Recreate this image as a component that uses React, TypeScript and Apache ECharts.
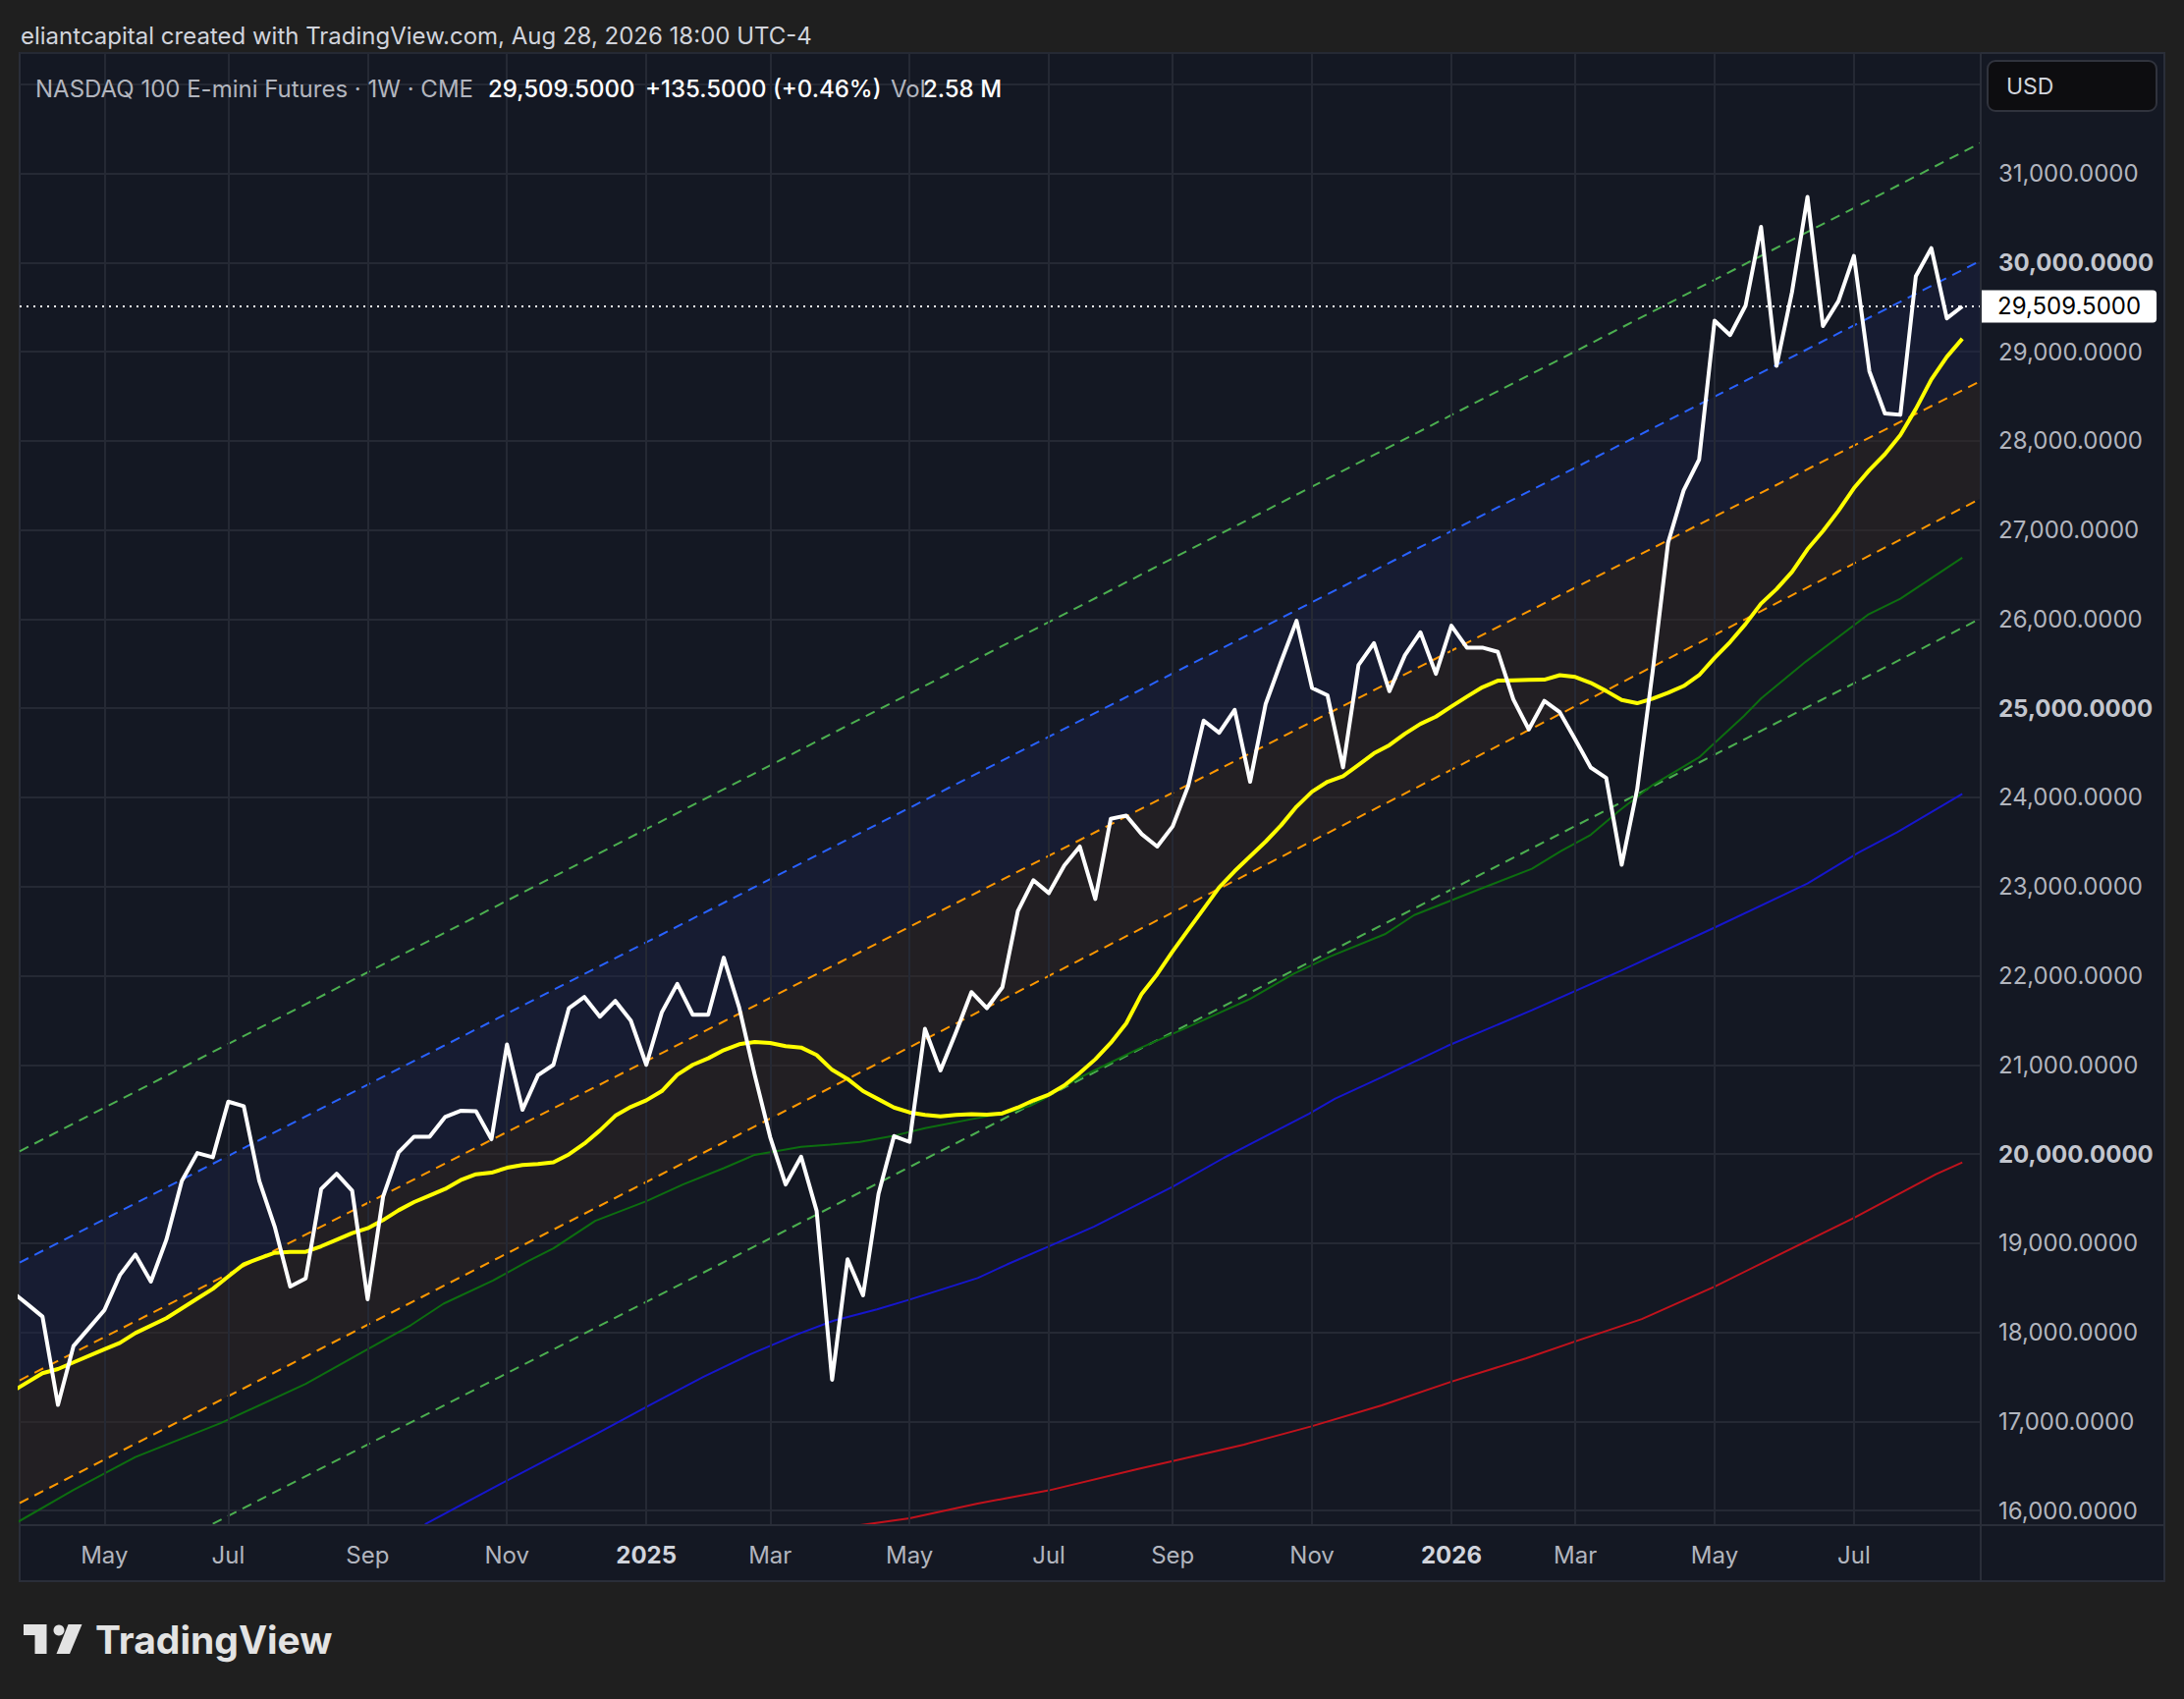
import React, { useEffect, useRef } from 'react';
import * as echarts from 'echarts';

const W = 2224;
const H = 1730;
const FONT = 'Inter, "Noto Sans", "DejaVu Sans", sans-serif';

// week index 0 = week of 2024-03-25, last = week of 2026-08-24
const close = [
  18457, 18318, 18175, 17184, 17844, 18046, 18248, 18641, 18872, 18568,
  19037, 19698, 20010, 19963, 20587, 20535, 19698, 19184, 18512, 18604,
  19607, 19779, 19588, 18369, 19522, 20018, 20194, 20194, 20414, 20484,
  20480, 20165, 21229, 20495, 20882, 21000, 21636, 21761, 21540, 21717,
  21496, 21000, 21588, 21908, 21562, 21562, 22202, 21643, 20889, 20190,
  19657, 19969, 19362, 17467, 18818, 18413, 19553, 20201, 20135, 21404,
  20937, 21364, 21816, 21636, 21871, 22725, 23071, 22927, 23236, 23449,
  22861, 23761, 23797, 23588, 23449, 23676, 24128, 24862, 24726, 24983,
  24176, 25046, 25523, 25982, 25229, 25145, 24337, 25486, 25732, 25192,
  25596, 25853, 25387, 25927, 25681, 25681, 25633, 25101, 24763, 25083,
  24956, 24651, 24336, 24219, 23244, 24092, 25413, 26861, 27445, 27790,
  29350, 29187, 29517, 30401, 28842, 29670, 30737, 29289, 29568, 30076,
  28781, 28308, 28293, 29848, 30163, 29375, 29509.5,
];

const yellowMA: [number, number][] = [
  [0, 17330], [2, 17540], [3, 17587], [4, 17661], [6, 17808], [7, 17881], [8, 17991],
  [10, 18157], [12, 18377], [13, 18487], [14, 18626], [15, 18762], [16, 18828], [17, 18891],
  [18, 18902], [19, 18902], [20, 18964], [21, 19037], [22, 19111], [23, 19166], [24, 19258],
  [25, 19368], [26, 19460], [27, 19533], [28, 19607], [29, 19706], [30, 19772], [31, 19790],
  [32, 19845], [33, 19876], [34, 19888], [35, 19907], [36, 19995], [37, 20116], [38, 20263],
  [39, 20429], [40, 20528], [41, 20602], [42, 20705], [43, 20889], [44, 21000], [45, 21073],
  [46, 21165], [47, 21231], [48, 21257], [49, 21246], [50, 21209], [51, 21194], [52, 21110],
  [53, 20944], [54, 20841], [55, 20705], [56, 20613], [57, 20521], [58, 20466], [59, 20437],
  [60, 20422], [61, 20437], [62, 20447], [63, 20440], [64, 20455], [65, 20521], [66, 20600],
  [67, 20666], [68, 20769], [69, 20908], [70, 21062], [71, 21246], [72, 21466], [73, 21797],
  [74, 22017], [75, 22274], [76, 22513], [77, 22751], [78, 22990], [79, 23173], [80, 23339],
  [81, 23504], [82, 23687], [83, 23897], [84, 24065], [85, 24176], [86, 24238], [87, 24366],
  [88, 24495], [89, 24587], [90, 24715], [91, 24825], [92, 24906], [93, 25020], [94, 25130],
  [95, 25236], [96, 25310], [97, 25314], [98, 25318], [99, 25321], [100, 25372], [101, 25352],
  [102, 25286], [103, 25194], [104, 25093], [105, 25057], [106, 25108], [107, 25174], [108, 25250],
  [109, 25372], [110, 25565], [111, 25743], [112, 25946], [113, 26175], [114, 26337], [115, 26530],
  [116, 26784], [117, 26988], [118, 27216], [119, 27470], [120, 27673], [121, 27851], [122, 28065],
  [123, 28359], [124, 28689], [125, 28943], [126, 29147],
];

const greenMA: [number, number][] = [
  [0, 15830], [4, 16230], [8, 16600], [13.5, 16980], [19, 17420], [22.4, 17750], [25.8, 18080],
  [27.9, 18320], [31.1, 18580], [33.4, 18800], [35, 18940], [37.7, 19250], [41, 19470],
  [43.4, 19660], [46, 19840], [48, 19990], [51, 20080], [52.9, 20105], [54.8, 20135],
  [56.9, 20200], [59, 20290], [62, 20390], [64.5, 20470], [65.8, 20540], [66.7, 20620],
  [68.8, 20840], [72.8, 21180], [75.8, 21410], [80, 21740], [82.8, 22020], [85.1, 22210],
  [88.7, 22465], [90.6, 22680], [94.8, 22970], [98.2, 23200], [100.1, 23400], [102, 23580],
  [103.9, 23860], [106, 24140], [109, 24450], [111.9, 24915], [113, 25110], [115.9, 25525],
  [119.9, 26050], [122, 26230], [126, 26690],
];

const blueMA: [number, number][] = [
  [26.7, 15844], [31.6, 16300], [37.8, 16860], [41.3, 17190], [44.7, 17500], [47.7, 17750],
  [50.8, 17980], [53.1, 18130], [55.9, 18257], [58, 18365], [62.4, 18608], [64.3, 18760],
  [67, 18963], [69.9, 19184], [75, 19632], [78.3, 19956], [83.8, 20450], [85.5, 20622],
  [88.5, 20861], [92.7, 21209], [98.2, 21613], [104, 22060], [110, 22540], [116, 23035],
  [119.3, 23381], [121.8, 23610], [126, 24041],
];

const redMA: [number, number][] = [
  [54.7, 15831], [58, 15912], [62.4, 16078], [67, 16225], [72.7, 16464], [75, 16555],
  [79.6, 16739], [83.9, 16941], [88.5, 17180], [93, 17445], [97.8, 17706], [101, 17897],
  [105.3, 18147], [110, 18511], [113.2, 18787], [119, 19283], [124.3, 19772], [126, 19906],
];

// regression channel lines: value at left edge and at right edge of the plot
const channelColors = ['#4caf50', '#2962ff', '#ff9800', '#ff9800', '#4caf50'];
const channelStart = [20030, 18782, 17460, 16083, 14739];
const channelEnd = [31344, 30023, 28673, 27353, 26009];

const tickIdx = [6, 14, 23, 32, 41, 49, 58, 67, 75, 84, 93, 101, 110, 119];
const tickLabels = ['May', 'Jul', 'Sep', 'Nov', '2025', 'Mar', 'May', 'Jul', 'Sep', 'Nov', '2026', 'Mar', 'May', 'Jul'];

const lastPrice = 29509.5;

const X_MIN = 0.524;
const X_MAX = 127.19;
const Y_MIN = 15835;
const Y_MAX = 32352;

const GRID = '#252934';
const BORDER = '#2a2e39';

const fmt = (v: number) =>
  v.toLocaleString('en-US', { minimumFractionDigits: 4, maximumFractionDigits: 4 });

function buildOption() {
  const closeData = close.map((v, i) => [i, v]);
  const series: any[] = [];

  series.push({
    type: 'line',
    name: 'vgrid',
    data: [],
    z: 1,
    clip: false,
    silent: true,
    markLine: {
      silent: true,
      symbol: ['none', 'none'],
      animation: false,
      lineStyle: { color: GRID, width: 2, type: 'solid' },
      emphasis: { disabled: true },
      label: {
        show: true,
        position: 'start',
        distance: 18,
        color: '#b2b5be',
        fontSize: 24,
        fontFamily: FONT,
        formatter: (p: any) => p.name,
      },
      data: tickIdx.map((x, k) => {
        const isYear = /^\d{4}$/.test(tickLabels[k]);
        const item: any = { name: tickLabels[k], xAxis: x };
        if (isYear) item.label = { fontWeight: 'bold', color: '#d1d4dc' };
        return item;
      }),
    },
  });

  // channel fills
  series.push({
    type: 'custom',
    silent: true,
    z: 2,
    data: [[X_MIN, channelStart[3]]],
    renderItem: (_params: any, api: any) => {
      const poly = (lo: number, hi: number, fill: string) => ({
        type: 'polygon',
        shape: {
          points: [
            api.coord([X_MIN, channelStart[lo]]),
            api.coord([X_MAX, channelEnd[lo]]),
            api.coord([X_MAX, channelEnd[hi]]),
            api.coord([X_MIN, channelStart[hi]]),
          ],
        },
        style: { fill },
      });
      return {
        type: 'group',
        children: [
          poly(3, 2, 'rgba(50,40,35,0.45)'),
          poly(2, 1, 'rgba(28,36,72,0.4)'),
        ],
      };
    },
  });

  channelStart.forEach((s, k) => {
    series.push({
      type: 'line', silent: true, symbol: 'none', z: 3,
      data: [[X_MIN, s], [X_MAX, channelEnd[k]]],
      lineStyle: { color: channelColors[k], width: 2, type: [10, 7] },
    });
  });

  series.push({
    type: 'line', silent: true, symbol: 'none', z: 4, data: greenMA,
    lineStyle: { color: '#0d6e10', width: 2 },
  });
  series.push({
    type: 'line', silent: true, symbol: 'none', z: 4, data: blueMA,
    lineStyle: { color: '#1616cc', width: 2 },
  });
  series.push({
    type: 'line', silent: true, symbol: 'none', z: 4, data: redMA,
    lineStyle: { color: '#c0121c', width: 2 },
  });
  series.push({
    type: 'line', silent: true, symbol: 'none', z: 5, data: yellowMA,
    lineStyle: { color: '#ffff00', width: 4, join: 'round' },
  });
  series.push({
    type: 'line', silent: true, symbol: 'none', z: 6, data: closeData,
    lineStyle: { color: '#ffffff', width: 4, join: 'round' },
  });

  series.push({
    type: 'line',
    name: 'price',
    data: [],
    z: 7,
    clip: false,
    silent: true,
    markLine: {
      silent: true,
      symbol: ['none', 'none'],
      animation: false,
      emphasis: { disabled: true },
      lineStyle: { color: '#ffffff', width: 2, type: [2, 5] },
      label: {
        show: true,
        position: 'end',
        distance: 1,
        formatter: fmt(lastPrice),
        backgroundColor: '#ffffff',
        color: '#000000',
        fontSize: 24,
        fontFamily: FONT,
        lineHeight: 24,
        padding: [5, 16, 4, 16],
        borderRadius: [0, 4, 4, 0],
      },
      data: [{ yAxis: lastPrice }],
    },
  });

  const text = (x: number, y: number, t: string, fill: string, size: number, weight = 'normal') => ({
    type: 'text',
    x,
    y,
    silent: true,
    z: 20,
    style: {
      text: t,
      fill,
      fontSize: size,
      fontFamily: FONT,
      fontWeight: weight,
      align: 'left',
      verticalAlign: 'middle',
    },
  });

  const graphic: any[] = [
    {
      type: 'rect', z: -10, silent: true,
      shape: { x: 20, y: 54, width: 2184, height: 1556 },
      style: { fill: '#141823', stroke: BORDER, lineWidth: 2 },
    },
    { type: 'line', z: 20, silent: true, shape: { x1: 2017, y1: 54, x2: 2017, y2: 1610 }, style: { stroke: BORDER, lineWidth: 2 } },
    { type: 'line', z: 20, silent: true, shape: { x1: 20, y1: 1553, x2: 2204, y2: 1553 }, style: { stroke: BORDER, lineWidth: 2 } },
    text(21, 36, 'eliantcapital created with TradingView.com, Aug 28, 2026 18:00 UTC-4', '#d1d4dc', 24),
    text(36, 90, 'NASDAQ 100 E-mini Futures · 1W · CME', '#b2b5be', 24),
    text(497, 90, fmt(lastPrice), '#ffffff', 24, '500'),
    text(657, 90, '+135.5000 (+0.46%)', '#ffffff', 24, '500'),
    text(907, 90, 'Vol', '#b2b5be', 24),
    text(940, 90, '2.58 M', '#ffffff', 24, '500'),
    {
      type: 'rect', z: 20, silent: true,
      shape: { x: 2024, y: 62, width: 172, height: 51, r: 8 },
      style: { fill: '#0d0d10', stroke: '#30333d', lineWidth: 2 },
    },
    text(2043, 88, 'USD', '#d1d4dc', 23),
    // TradingView logo
    { type: 'rect', z: 20, silent: true, shape: { x: 24, y: 1654, width: 23, height: 11 }, style: { fill: '#e3e3e3' } },
    { type: 'rect', z: 20, silent: true, shape: { x: 35.5, y: 1654, width: 12, height: 30 }, style: { fill: '#e3e3e3' } },
    { type: 'circle', z: 20, silent: true, shape: { cx: 60, cy: 1660, r: 5.5 }, style: { fill: '#e3e3e3' } },
    {
      type: 'polygon', z: 20, silent: true,
      shape: { points: [[69.5, 1654], [83.5, 1654], [71, 1684], [57.5, 1684]] },
      style: { fill: '#e3e3e3' },
    },
    text(97, 1669, 'TradingView', '#e3e3e3', 39, 'bold'),
  ];

  return {
    animation: false,
    backgroundColor: '#1f1f1f',
    grid: { left: 20, right: W - 2017, top: 54, bottom: H - 1553, containLabel: false },
    xAxis: {
      type: 'value',
      min: X_MIN,
      max: X_MAX,
      axisLine: { show: false },
      axisTick: { show: false },
      axisLabel: { show: false },
      splitLine: { show: false },
    },
    yAxis: {
      type: 'value',
      position: 'right',
      min: Y_MIN,
      max: Y_MAX,
      splitNumber: 16,
      axisLine: { show: false },
      axisTick: { show: false },
      splitLine: { show: true, lineStyle: { color: GRID, width: 2 } },
      axisLabel: {
        margin: 18,
        showMinLabel: false,
        showMaxLabel: false,
        formatter: (v: number) => {
          if (v > 31500 || v < 15900) return '';
          const s = fmt(v);
          return v % 5000 === 0 ? `{b|${s}}` : `{n|${s}}`;
        },
        rich: {
          n: { color: '#b2b5be', fontSize: 24, fontFamily: FONT },
          b: { color: '#c3c6ce', fontSize: 24, fontFamily: FONT, fontWeight: 'bold' },
        },
      },
    },
    series,
    graphic,
  };
}

export default function App() {
  const ref = useRef<HTMLDivElement>(null);
  useEffect(() => {
    if (!ref.current) return;
    const chart = echarts.init(ref.current, undefined, { renderer: 'svg', width: W, height: H });
    chart.setOption(buildOption() as any);
    return () => chart.dispose();
  }, []);
  return <div ref={ref} style={{ position: 'fixed', left: 0, top: 0, width: W, height: H }} />;
}
